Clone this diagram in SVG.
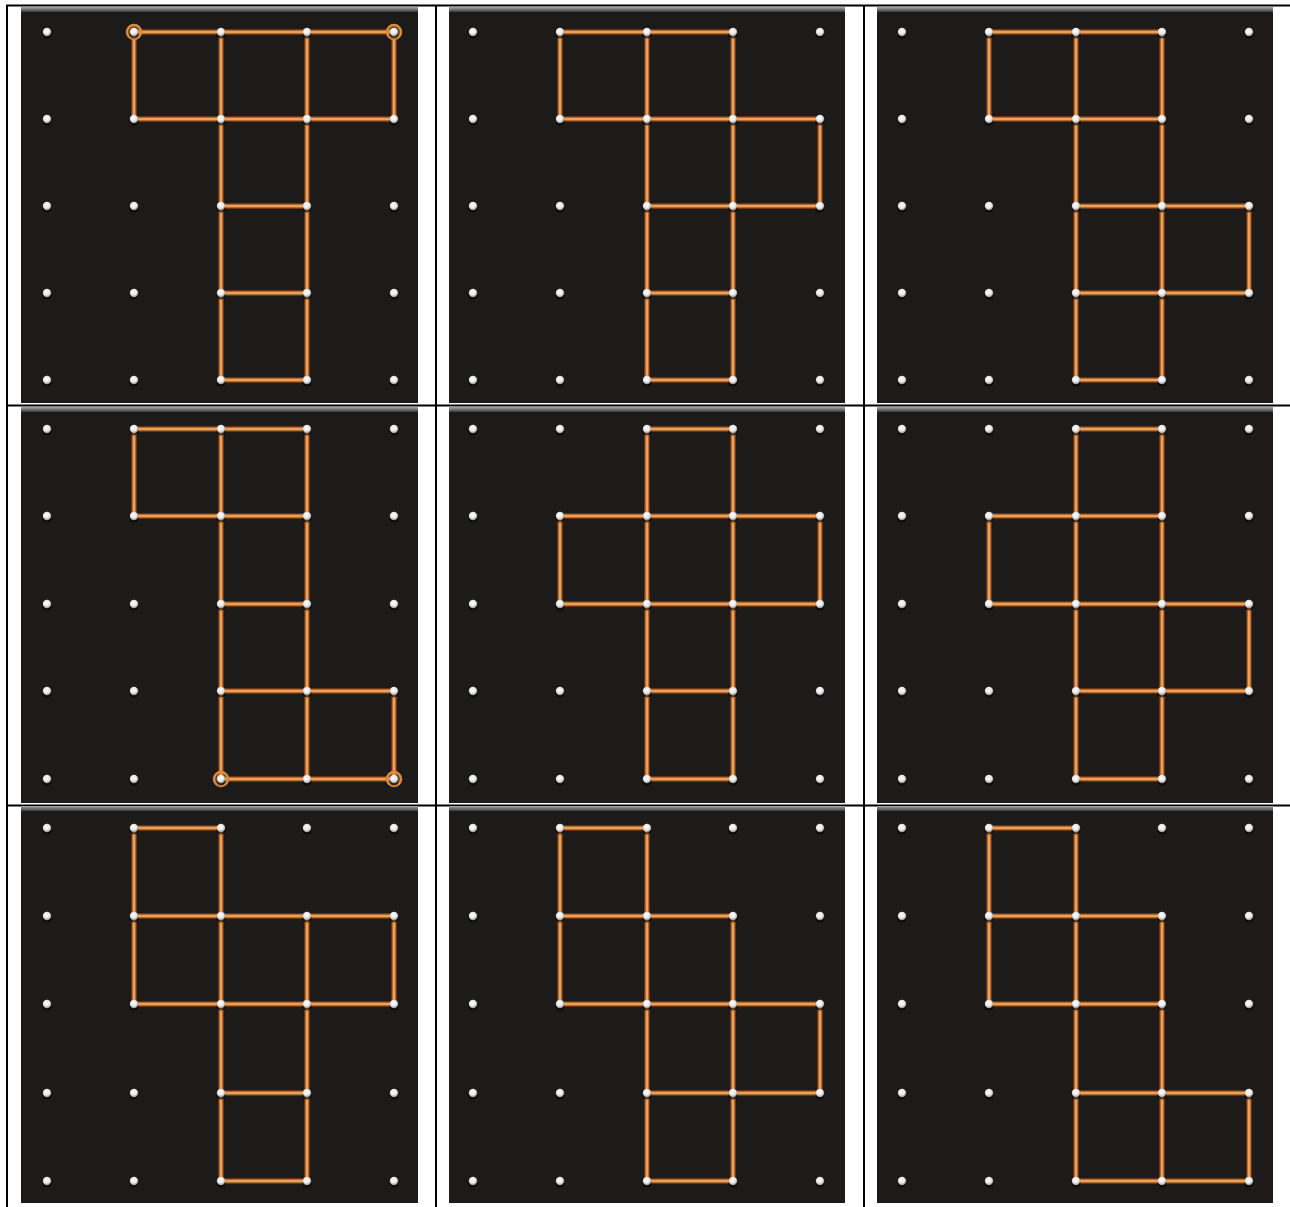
<svg xmlns="http://www.w3.org/2000/svg" xmlns:xlink="http://www.w3.org/1999/xlink" width="1290" height="1207" viewBox="0 0 1290 1207">
<style>
.tbl{stroke:#000;stroke-width:2;fill:none}
.board{fill:#1c1b1a}
.edge{fill:url(#topbar)}
.halo{fill:none;stroke:#7a3a0e;stroke-width:6;stroke-linecap:round;stroke-opacity:0.85}
.core{fill:none;stroke:#eda15a;stroke-width:3;stroke-linecap:round}
.ring{fill:#d9853a;fill-opacity:0.35;stroke:#d98a3c;stroke-width:2.5}
</style>
<defs>
<linearGradient id="topbar" x1="0" y1="0" x2="0" y2="1">
<stop offset="0" stop-color="#a8a8a8"/>
<stop offset="1" stop-color="#3a3a3a"/>
</linearGradient>
<radialGradient id="dotg" cx="0.45" cy="0.4" r="0.6">
<stop offset="0" stop-color="#ffffff"/>
<stop offset="0.6" stop-color="#e6e6e6"/>
<stop offset="1" stop-color="#8a8a8a"/>
</radialGradient>
<g id="dot">
<ellipse cx="0" cy="2.5" rx="4.5" ry="4" fill="#000" opacity="0.6"/>
<circle cx="0" cy="0" r="4.2" fill="url(#dotg)"/>
</g>
<g id="dotrow">
<use xlink:href="#dot" x="0"/>
<use xlink:href="#dot" x="87"/>
<use xlink:href="#dot" x="174"/>
<use xlink:href="#dot" x="260"/>
<use xlink:href="#dot" x="347"/>
</g>
<path id="netA" d="M134,32H394M134,119H394M134,32V119M221,32V380M307,32V380M394,32V119M221,206H307M221,293H307M221,380H307"/>
<path id="netB" d="M560,32H733M560,32V119M647,32V380M733,32V380M560,119H820M820,119V206M647,206H820M647,293H733M647,380H733"/>
<path id="netC" d="M989,32H1162M989,32V119M989,119H1162M1076,32V380M1162,32V380M1076,206H1249M1076,293H1249M1249,206V293M1076,380H1162"/>
<path id="netD" d="M134,429H307M134,429V516M134,516H307M221,429V779M307,429V779M221,604H307M221,691H394M394,691V779M221,779H394"/>
<path id="netE" d="M647,429H733M647,429V779M733,429V779M560,516H820M560,604H820M560,516V604M820,516V604M647,691H733M647,779H733"/>
<path id="netF" d="M1076,429H1162M1076,429V779M1162,429V779M989,516H1162M989,516V604M989,604H1249M1249,604V691M1076,691H1249M1076,779H1162"/>
<path id="netG" d="M134,828H221M134,828V1004M221,828V1181M134,916H394M307,916V1181M394,916V1004M134,1004H394M221,1093H307M221,1181H307"/>
<path id="netH" d="M560,828H647M560,828V1004M647,828V1181M560,916H733M733,916V1181M560,1004H820M820,1004V1093M647,1093H820M647,1181H733"/>
<path id="netI" d="M989,828H1076M989,828V1004M1076,828V1181M989,916H1162M1162,916V1181M989,1004H1162M1076,1093H1249M1249,1093V1181M1076,1181H1249"/>
</defs>
<rect x="0" y="0" width="1290" height="1207" fill="#fff"/>
<g id="table">
<path class="tbl" d="M6,5.5H1290M6,405.5H1290M6,805.5H1290M7,5V1207M436,5V1207M864,5V1207"/>
</g>
<g id="panel-1">
<rect class="board" x="21" y="7" width="397" height="396"/>
<rect class="edge" x="21" y="7" width="397" height="5"/>
<use class="halo" xlink:href="#netA"/><use class="core" xlink:href="#netA"/>
<circle class="ring" cx="134" cy="32" r="7"/><circle class="ring" cx="394" cy="32" r="7"/>
<use xlink:href="#dotrow" x="47" y="32"/><use xlink:href="#dotrow" x="47" y="119"/><use xlink:href="#dotrow" x="47" y="206"/><use xlink:href="#dotrow" x="47" y="293"/><use xlink:href="#dotrow" x="47" y="380"/>
</g>
<g id="panel-2">
<rect class="board" x="449" y="7" width="396" height="396"/>
<rect class="edge" x="449" y="7" width="396" height="5"/>
<use class="halo" xlink:href="#netB"/><use class="core" xlink:href="#netB"/>
<use xlink:href="#dotrow" x="473" y="32"/><use xlink:href="#dotrow" x="473" y="119"/><use xlink:href="#dotrow" x="473" y="206"/><use xlink:href="#dotrow" x="473" y="293"/><use xlink:href="#dotrow" x="473" y="380"/>
</g>
<g id="panel-3">
<rect class="board" x="877" y="7" width="396" height="396"/>
<rect class="edge" x="877" y="7" width="396" height="5"/>
<use class="halo" xlink:href="#netC"/><use class="core" xlink:href="#netC"/>
<use xlink:href="#dotrow" x="902" y="32"/><use xlink:href="#dotrow" x="902" y="119"/><use xlink:href="#dotrow" x="902" y="206"/><use xlink:href="#dotrow" x="902" y="293"/><use xlink:href="#dotrow" x="902" y="380"/>
</g>
<g id="panel-4">
<rect class="board" x="21" y="407" width="397" height="396"/>
<rect class="edge" x="21" y="407" width="397" height="5"/>
<use class="halo" xlink:href="#netD"/><use class="core" xlink:href="#netD"/>
<circle class="ring" cx="221" cy="779" r="7"/><circle class="ring" cx="394" cy="779" r="7"/>
<use xlink:href="#dotrow" x="47" y="429"/><use xlink:href="#dotrow" x="47" y="516"/><use xlink:href="#dotrow" x="47" y="604"/><use xlink:href="#dotrow" x="47" y="691"/><use xlink:href="#dotrow" x="47" y="779"/>
</g>
<g id="panel-5">
<rect class="board" x="449" y="407" width="396" height="396"/>
<rect class="edge" x="449" y="407" width="396" height="5"/>
<use class="halo" xlink:href="#netE"/><use class="core" xlink:href="#netE"/>
<use xlink:href="#dotrow" x="473" y="429"/><use xlink:href="#dotrow" x="473" y="516"/><use xlink:href="#dotrow" x="473" y="604"/><use xlink:href="#dotrow" x="473" y="691"/><use xlink:href="#dotrow" x="473" y="779"/>
</g>
<g id="panel-6">
<rect class="board" x="877" y="407" width="396" height="396"/>
<rect class="edge" x="877" y="407" width="396" height="5"/>
<use class="halo" xlink:href="#netF"/><use class="core" xlink:href="#netF"/>
<use xlink:href="#dotrow" x="902" y="429"/><use xlink:href="#dotrow" x="902" y="516"/><use xlink:href="#dotrow" x="902" y="604"/><use xlink:href="#dotrow" x="902" y="691"/><use xlink:href="#dotrow" x="902" y="779"/>
</g>
<g id="panel-7">
<rect class="board" x="21" y="806" width="397" height="397"/>
<rect class="edge" x="21" y="806" width="397" height="5"/>
<use class="halo" xlink:href="#netG"/><use class="core" xlink:href="#netG"/>
<use xlink:href="#dotrow" x="47" y="828"/><use xlink:href="#dotrow" x="47" y="916"/><use xlink:href="#dotrow" x="47" y="1004"/><use xlink:href="#dotrow" x="47" y="1093"/><use xlink:href="#dotrow" x="47" y="1181"/>
</g>
<g id="panel-8">
<rect class="board" x="449" y="806" width="396" height="397"/>
<rect class="edge" x="449" y="806" width="396" height="5"/>
<use class="halo" xlink:href="#netH"/><use class="core" xlink:href="#netH"/>
<use xlink:href="#dotrow" x="473" y="828"/><use xlink:href="#dotrow" x="473" y="916"/><use xlink:href="#dotrow" x="473" y="1004"/><use xlink:href="#dotrow" x="473" y="1093"/><use xlink:href="#dotrow" x="473" y="1181"/>
</g>
<g id="panel-9">
<rect class="board" x="877" y="806" width="396" height="397"/>
<rect class="edge" x="877" y="806" width="396" height="5"/>
<use class="halo" xlink:href="#netI"/><use class="core" xlink:href="#netI"/>
<use xlink:href="#dotrow" x="902" y="828"/><use xlink:href="#dotrow" x="902" y="916"/><use xlink:href="#dotrow" x="902" y="1004"/><use xlink:href="#dotrow" x="902" y="1093"/><use xlink:href="#dotrow" x="902" y="1181"/>
</g>
</svg>
